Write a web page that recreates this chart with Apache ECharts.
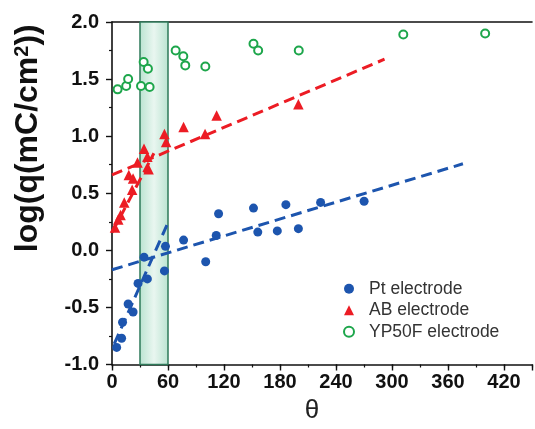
<!DOCTYPE html>
<html>
<head>
<meta charset="utf-8">
<script src="https://cdn.jsdelivr.net/npm/echarts@6/dist/echarts.min.js"></script>
<style>
html,body{margin:0;padding:0;background:#fff;}
#chart{width:535px;height:429px;}
</style>
</head>
<body>
<div id="chart"></div>
<script>
// ---- data ----
var xTicks = [0, 60, 120, 180, 240, 300, 360, 420];
var yTicks = [-1.0, -0.5, 0.0, 0.5, 1.0, 1.5, 2.0];

var ptX = [5.0, 10.3, 11.3, 17.3, 22.6, 27.9, 37.9, 34.3, 56.2, 57.3, 76.7, 100.4, 111.7, 114.2, 151.6, 156.2, 177.1, 186.3, 199.7, 223.5, 270.1];
var ptY = [-0.85, -0.77, -0.63, -0.47, -0.54, -0.29, -0.25, -0.06, -0.18, 0.035, 0.09, -0.10, 0.13, 0.32, 0.37, 0.16, 0.17, 0.40, 0.19, 0.42, 0.43];

var abX = [3.2, 6.7, 9.2, 13.1, 21.6, 18.0, 22.6, 27.3, 34.3, 37.9, 39.2, 56.2, 58.0, 76.7, 99.7, 112.1, 199.7];
var abY = [0.20, 0.27, 0.31, 0.42, 0.53, 0.66, 0.63, 0.77, 0.89, 0.82, 0.71, 1.02, 0.95, 1.08, 1.02, 1.18, 1.28];

var ypX = [6.0, 15.2, 17.3, 31.1, 40.3, 33.9, 38.5, 68.2, 76.4, 78.5, 100.0, 151.6, 156.6, 200.1, 312.1, 399.8];
var ypY = [1.41, 1.44, 1.50, 1.44, 1.43, 1.65, 1.59, 1.75, 1.70, 1.62, 1.61, 1.81, 1.75, 1.75, 1.89, 1.90];

// fitted dashed lines: [x, y] endpoints
var ptFitSteep = [[2.4, -0.82], [60.4, 0.25]];
var ptFitShallow = [[0, -0.17], [376, 0.758]];
var abFitSteep = [[0, 0.155], [44.9, 0.85]];
var abFitShallow = [[0, 0.66], [292, 1.674]];

var bandRange = [30, 60];
var seriesNames = ['Pt electrode', 'AB electrode', 'YP50F electrode'];

function pairs(xs, ys) { return xs.map(function (x, i) { return [x, ys[i]]; }); }

var BLUE = '#1d55ae', RED = '#ec1c24', GREEN = '#1da64b';
var FONT = '"Liberation Sans", Arial, Helvetica, sans-serif';

var chart = echarts.init(document.getElementById('chart'), null, {renderer: 'canvas'});

var dashed = function (data, color, name) {
  return {
    type: 'line', name: name, data: data, xAxisIndex: 0, yAxisIndex: 0,
    showSymbol: false, symbol: 'none', silent: true, z: 3,
    lineStyle: {color: color, width: 3, type: [11, 6]}
  };
};

var option = {
  animation: false,
  backgroundColor: '#ffffff',
  textStyle: {fontFamily: FONT},
  grid: {left: 112, top: 22, width: 424.4, height: 342.5, containLabel: false},
  legend: {
    data: seriesNames,
    orient: 'vertical',
    left: 338, top: 273,
    itemWidth: 10, itemHeight: 10, itemGap: 0,
    textStyle: {fontFamily: FONT, fontSize: 17.5, color: '#333', lineHeight: 21.5, padding: [0, 0, 0, 10]}
  },
  xAxis: [{
    type: 'value', position: 'bottom', min: 0, max: 450, interval: 60,
    name: 'θ', nameLocation: 'middle', nameGap: 31,
    nameTextStyle: {fontFamily: FONT, fontSize: 26, color: '#222', padding: [0, 20, 0, 0]},
    axisLine: {show: true, onZero: false, lineStyle: {color: '#111', width: 1.6}},
    axisTick: {show: true, inside: false, length: 6, lineStyle: {color: '#111', width: 1.4}},
    axisLabel: {
      margin: 8, fontFamily: FONT, fontSize: 20, fontWeight: 'bold', color: '#111',
      formatter: function (v) { return xTicks.indexOf(v) >= 0 ? String(v) : ''; }
    },
    splitLine: {show: false}
  }, {
    type: 'value', position: 'top', min: 0, max: 450, interval: 60,
    axisLine: {show: true, onZero: false, lineStyle: {color: '#111', width: 1.6}},
    axisTick: {show: false}, axisLabel: {show: false}, splitLine: {show: false}
  }, {
    type: 'value', position: 'bottom', min: 0, max: 450, interval: 30,
    axisLine: {show: false, onZero: false},
    axisTick: {show: true, inside: false, length: 3, lineStyle: {color: '#111', width: 1.2}},
    axisLabel: {show: false}, splitLine: {show: false}
  }],
  yAxis: [{
    type: 'value', min: -1, max: 2, interval: 0.5,
    name: 'log(q(mC/cm{sup|2}))', nameLocation: 'middle', nameGap: 68, nameRotate: 90,
    nameTextStyle: {
      fontFamily: FONT, fontSize: 32, fontWeight: 'bold', color: '#111',
      padding: [0, 0, 0, 110],
      rich: {sup: {fontFamily: FONT, fontSize: 20, fontWeight: 'bold', color: '#111', verticalAlign: 'top', padding: [0, 0, 10, 0]}}
    },
    axisLine: {show: true, onZero: false, lineStyle: {color: '#111', width: 1.6}},
    axisTick: {show: true, inside: false, length: 6, lineStyle: {color: '#111', width: 1.4}},
    minorTick: {show: true, splitNumber: 2, length: 3, lineStyle: {color: '#111', width: 1.2}},
    axisLabel: {
      margin: 13, fontFamily: FONT, fontSize: 20, fontWeight: 'bold', color: '#111',
      formatter: function (v) { return v.toFixed(1); }
    },
    splitLine: {show: false}, minorSplitLine: {show: false}
  }],
  series: [
    {
      type: 'scatter', name: 'band', data: [], z: 1, silent: true,
      markArea: {
        silent: true,
        itemStyle: {
          color: {type: 'linear', x: 0, y: 0, x2: 1, y2: 0, colorStops: [
            {offset: 0, color: '#b9e3d0'}, {offset: 0.5, color: '#e9f6f0'}, {offset: 1, color: '#b9e3d0'}
          ]},
          borderColor: '#2e7a5a', borderWidth: 1.5, opacity: 1
        },
        data: [[{xAxis: bandRange[0]}, {xAxis: bandRange[1]}]]
      }
    },
    dashed(ptFitSteep, BLUE, 'ptFit1'),
    dashed(ptFitShallow, BLUE, 'ptFit2'),
    dashed(abFitSteep, RED, 'abFit1'),
    dashed(abFitShallow, RED, 'abFit2'),
    {
      type: 'scatter', name: seriesNames[0], data: pairs(ptX, ptY), z: 4,
      symbol: 'circle', symbolSize: 9, itemStyle: {color: BLUE, opacity: 1}
    },
    {
      type: 'scatter', name: seriesNames[1], data: pairs(abX, abY), z: 4,
      symbol: 'triangle', symbolSize: 10.5, itemStyle: {color: RED, opacity: 1}
    },
    {
      type: 'scatter', name: seriesNames[2], data: pairs(ypX, ypY), z: 4,
      symbol: 'emptyCircle', symbolSize: 8, itemStyle: {color: GREEN, borderColor: GREEN, borderWidth: 2, opacity: 1}
    }
  ]
};
chart.setOption(option);
</script>
</body>
</html>
